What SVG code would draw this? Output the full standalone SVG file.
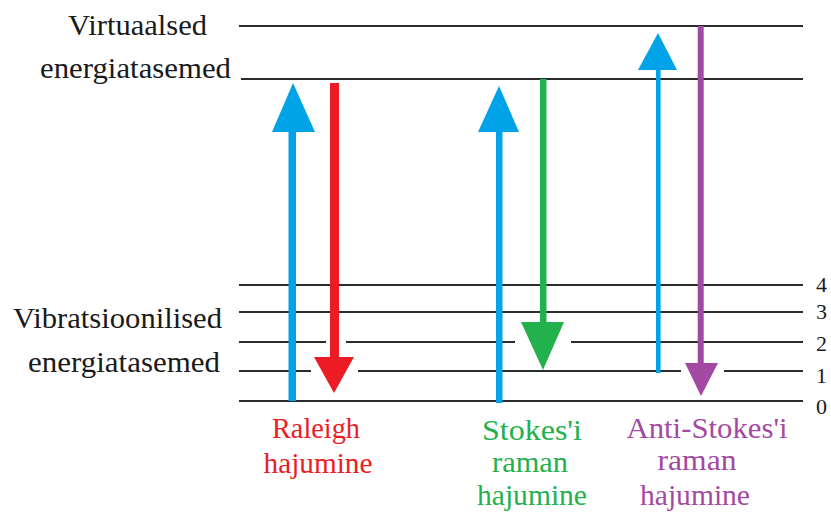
<svg xmlns="http://www.w3.org/2000/svg" width="831" height="515" viewBox="0 0 831 515" font-family="'Liberation Serif', Tinos, 'Noto Serif', 'DejaVu Serif', FreeSerif, 'Times New Roman', Times, serif">
  <style>
    .lvl { stroke: #2b2b2b; stroke-width: 2; fill: none; }
    .txt { font-size: 30px; fill: #1a1a1a; }
    .num { font-size: 22px; fill: #1a1a1a; }
    .lab { font-size: 29px; text-anchor: middle; }
    .blue { fill: #00A2E8; }
    .red { fill: #ED1C24; }
    .green { fill: #22B14C; }
    .purple { fill: #A349A4; }
  </style>
  <rect width="831" height="515" fill="#ffffff"/>

  <!-- energy levels -->
  <g id="levels">
    <line class="lvl" x1="239" y1="26" x2="803" y2="26"/>
    <line class="lvl" x1="241" y1="79" x2="803" y2="79"/>
    <line class="lvl" x1="239" y1="285" x2="803" y2="285"/>
    <line class="lvl" x1="239" y1="312" x2="803" y2="312"/>
    <!-- level 2, interrupted around the red and green heads -->
    <line class="lvl" x1="239" y1="342" x2="326" y2="342"/>
    <line class="lvl" x1="346" y1="342" x2="515" y2="342"/>
    <line class="lvl" x1="571" y1="342" x2="803" y2="342"/>
    <!-- level 1, interrupted around the red and purple heads -->
    <line class="lvl" x1="239" y1="371" x2="311" y2="371"/>
    <line class="lvl" x1="358" y1="371" x2="681" y2="371"/>
    <line class="lvl" x1="724" y1="371" x2="803" y2="371"/>
    <line class="lvl" x1="239" y1="401" x2="803" y2="401"/>
  </g>

  <g id="level-text">
    <text class="txt" x="68" y="35" textLength="139" lengthAdjust="spacingAndGlyphs">Virtuaalsed</text>
    <text class="txt" x="40" y="78" textLength="191" lengthAdjust="spacingAndGlyphs">energiatasemed</text>
    <text class="txt" x="13" y="328" textLength="209" lengthAdjust="spacingAndGlyphs">Vibratsioonilised</text>
    <text class="txt" x="28" y="372" textLength="192" lengthAdjust="spacingAndGlyphs">energiatasemed</text>
  </g>

  <g id="level-numbers">
    <text class="num" x="816" y="292">4</text>
    <text class="num" x="816" y="319">3</text>
    <text class="num" x="816" y="351">2</text>
    <text class="num" x="816" y="383">1</text>
    <text class="num" x="816" y="414">0</text>
  </g>

  <!-- transitions -->
  <g id="connectors">
    <!-- Rayleigh: excitation and return to ground -->
    <g id="rayleigh-up">
      <rect class="blue" x="288.5" y="128" width="7.5" height="273"/>
      <polygon class="blue" points="293,83 315,132 272,132"/>
    </g>
    <g id="rayleigh-down">
      <rect class="red" x="330" y="83" width="9" height="276"/>
      <polygon class="red" points="314,357 354,357 334,393"/>
    </g>
    <!-- Stokes: excitation, decay to level 1 -->
    <g id="stokes-up">
      <rect class="blue" x="496" y="128" width="6.5" height="275"/>
      <polygon class="blue" points="499,86 519,132 478,132"/>
    </g>
    <g id="stokes-down">
      <rect class="green" x="540" y="79" width="6.5" height="245"/>
      <polygon class="green" points="521,322 564,322 543,370"/>
    </g>
    <!-- anti-Stokes: excitation from level 1, decay to ground -->
    <g id="antistokes-up">
      <rect class="blue" x="656" y="68" width="4.6" height="305"/>
      <polygon class="blue" points="658,33 677,70 638,70"/>
    </g>
    <g id="antistokes-down">
      <rect class="purple" x="697.7" y="26" width="6" height="339"/>
      <polygon class="purple" points="685,363 718,363 701,396"/>
    </g>
  </g>

  <g id="labels">
    <g id="label-rayleigh">
      <text class="lab red" x="316" y="438" textLength="88" lengthAdjust="spacingAndGlyphs">Raleigh</text>
      <text class="lab red" x="318" y="473" textLength="109" lengthAdjust="spacingAndGlyphs">hajumine</text>
    </g>
    <g id="label-stokes">
      <text class="lab green" x="532" y="440" textLength="100" lengthAdjust="spacingAndGlyphs">Stokes'i</text>
      <text class="lab green" x="530" y="472" textLength="76" lengthAdjust="spacingAndGlyphs">raman</text>
      <text class="lab green" x="532" y="505" textLength="110" lengthAdjust="spacingAndGlyphs">hajumine</text>
    </g>
    <g id="label-antistokes">
      <text class="lab purple" x="707" y="438" textLength="161" lengthAdjust="spacingAndGlyphs">Anti-Stokes'i</text>
      <text class="lab purple" x="697" y="470" textLength="79" lengthAdjust="spacingAndGlyphs">raman</text>
      <text class="lab purple" x="695" y="505" textLength="110" lengthAdjust="spacingAndGlyphs">hajumine</text>
    </g>
  </g>
</svg>
